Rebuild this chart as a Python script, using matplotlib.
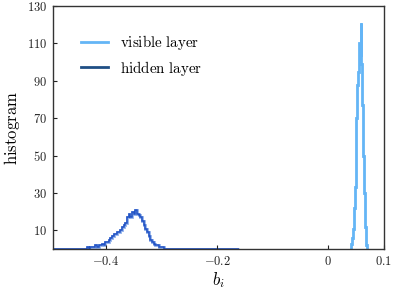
import numpy as np
import matplotlib
matplotlib.use("Agg")
import matplotlib.pyplot as plt
from matplotlib.lines import Line2D

plt.rcParams['mathtext.fontset'] = 'cm'
plt.rcParams['font.family'] = ['DejaVu Serif']

# ---- data ----
visible_edge_start = 0.0415
visible_bin_width = 0.0015
visible_counts = [3, 6, 11, 22, 33, 46, 70, 88, 95, 110, 104, 121, 99, 77, 50, 30, 12, 5, 2]

hidden_edge_start = -0.5
hidden_bin_width = 0.003
hidden_counts = [
    0, 0, 0, 0, 0, 0, 0, 0, 0, 0, 0, 0, 0, 0, 0, 0, 0, 0, 0, 0, 0, 0,
    1, 0, 1, 1, 1, 2, 1, 2, 2, 3, 2, 4, 4, 5, 6, 7, 8, 8, 9, 9,
    10, 12, 13, 14, 17, 19, 17, 20, 19, 21, 19, 18, 17, 15, 13, 11, 9, 7,
    5, 4, 3, 2, 2, 1, 1, 1,
    0, 0, 0, 0, 0, 0, 0, 0, 0, 0, 0, 0, 0, 0, 0, 0, 0, 0, 0, 0, 0, 0,
    0, 0, 0, 0, 0, 0, 0, 0, 0, 0, 0, 0, 0, 0, 0, 0, 0, 0, 0, 0, 0, 0, 0,
]

xticks = [-0.4, -0.2, 0, 0.1]
xtick_labels = [r'$-0.4$', r'$-0.2$', r'$0$', r'$0.1$']
yticks = [10, 30, 50, 70, 90, 110, 130]
ytick_labels = [r'$%d$' % v for v in yticks]
legend_labels = [r'$\mathrm{visible\ layer}$', r'$\mathrm{hidden\ layer}$']

# ---- plot ----
fig = plt.figure(figsize=(3.93, 2.89), dpi=100)
ax = fig.add_axes([0.135, 0.138, 0.842, 0.841])

v_edges = visible_edge_start + visible_bin_width * np.arange(len(visible_counts) + 1)
h_edges = hidden_edge_start + hidden_bin_width * np.arange(len(hidden_counts) + 1)

ax.stairs(hidden_counts, h_edges, color='#8fb0ea', lw=2.0)
ax.stairs(hidden_counts, h_edges, color='#2152c4', lw=1.1)
ax.stairs(visible_counts, v_edges, color='#64b5f6', lw=2.0)

ax.set_xlim(-0.495, 0.1)
ax.set_ylim(0, 130)
ax.set_xticks(xticks)
ax.set_xticklabels(xtick_labels, fontsize=9)
ax.set_yticks(yticks)
ax.set_yticklabels(ytick_labels, fontsize=9)
ax.tick_params(direction='in', length=3, width=0.8, colors='#222222', pad=4)
for s in ax.spines.values():
    s.set_color('#333333')
    s.set_linewidth(1.0)

ax.set_xlabel(r'$b_i$', fontsize=12, labelpad=2)
ax.set_ylabel(r'$\mathrm{histogram}$', fontsize=12, labelpad=4)

handles = [Line2D([], [], color='#64b5f6', lw=2.0),
           Line2D([], [], color='#1f4f85', lw=2.0)]
ax.legend(handles, legend_labels, loc='upper left', bbox_to_anchor=(0.045, 0.945),
          frameon=False, fontsize=10.8, handlelength=1.8, handletextpad=0.8,
          labelspacing=0.45)

fig.savefig('out.png', dpi=100)
